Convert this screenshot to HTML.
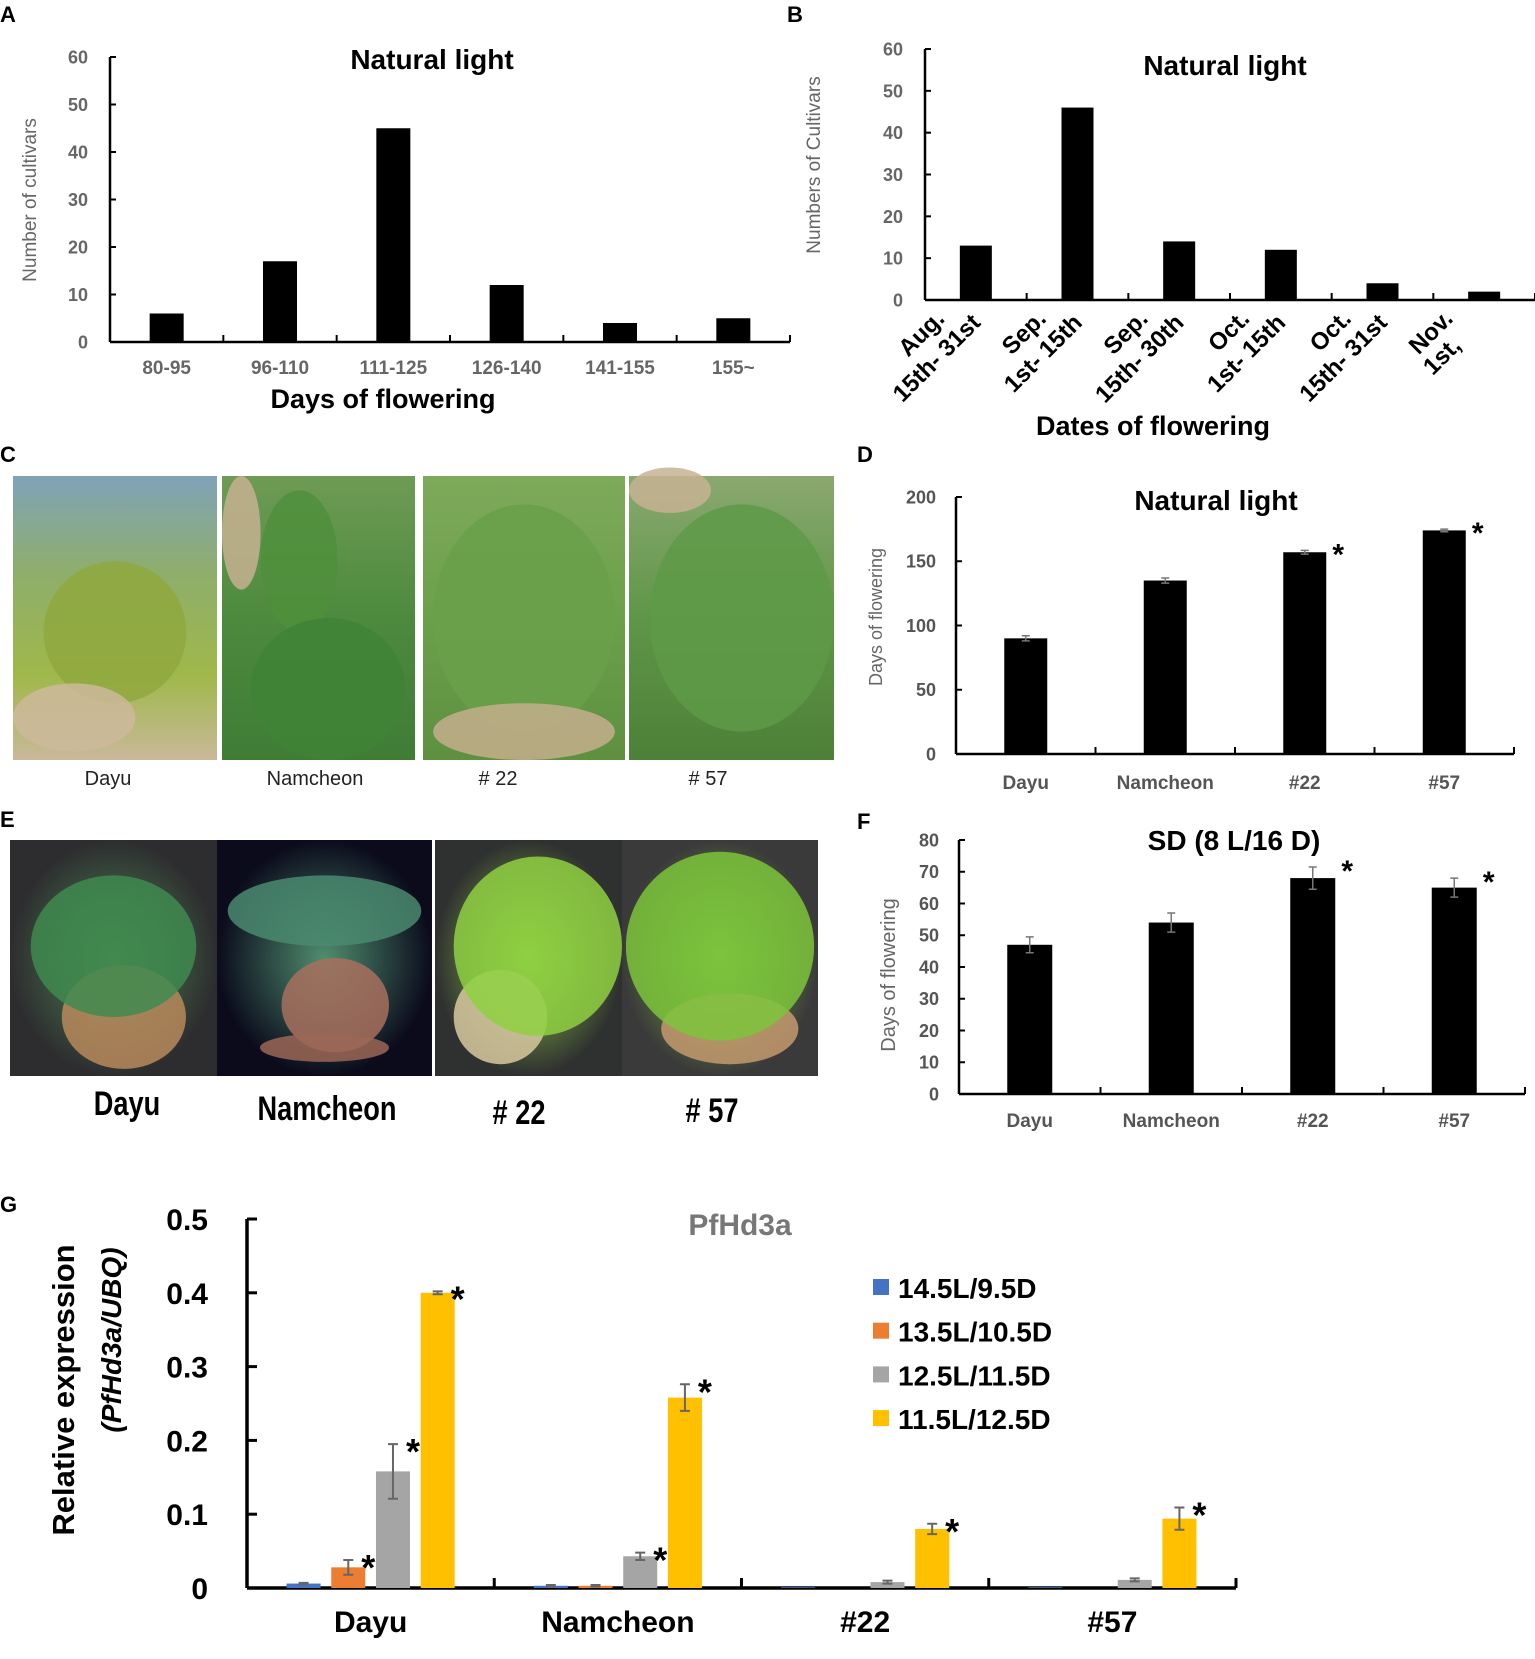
<!DOCTYPE html>
<html><head><meta charset="utf-8"><style>
html,body{margin:0;padding:0;background:#fff;}
svg{display:block;font-family:"Liberation Sans",sans-serif;}
</style></head><body>
<svg id="fig" width="1535" height="1659" viewBox="0 0 1535 1659" xmlns="http://www.w3.org/2000/svg">
<defs>
<linearGradient id="gC1" x1="0" y1="0" x2="0" y2="1"><stop offset="0" stop-color="#7fa3b8"/><stop offset="0.35" stop-color="#8fae6a"/><stop offset="0.7" stop-color="#9fb84a"/><stop offset="1" stop-color="#c9b89a"/></linearGradient>
<linearGradient id="gC2" x1="0" y1="0" x2="0" y2="1"><stop offset="0" stop-color="#6e9b55"/><stop offset="0.5" stop-color="#4d8a3e"/><stop offset="1" stop-color="#3f7d36"/></linearGradient>
<linearGradient id="gC3" x1="0" y1="0" x2="0" y2="1"><stop offset="0" stop-color="#7eaa5a"/><stop offset="0.5" stop-color="#6ba04a"/><stop offset="1" stop-color="#5e9040"/></linearGradient>
<linearGradient id="gC4" x1="0" y1="0" x2="0" y2="1"><stop offset="0" stop-color="#8aa870"/><stop offset="0.5" stop-color="#5f9648"/><stop offset="1" stop-color="#4d8038"/></linearGradient>
<radialGradient id="gE1"><stop offset="0" stop-color="#4d8a55"/><stop offset="1" stop-color="#2d2d2f"/></radialGradient>
<radialGradient id="gE2"><stop offset="0" stop-color="#4f8d6e"/><stop offset="1" stop-color="#0b0b1c"/></radialGradient>
<radialGradient id="gE3"><stop offset="0" stop-color="#8ed045"/><stop offset="1" stop-color="#2f3030"/></radialGradient>
<radialGradient id="gE4"><stop offset="0" stop-color="#7cc43c"/><stop offset="1" stop-color="#3a3a3a"/></radialGradient>
</defs>
<g id="photos"></g>
<g id="charts"></g>
</svg>
<script>
const NS='http://www.w3.org/2000/svg';
const root=document.getElementById('charts');
const photos=document.getElementById('photos');
function mk(tag,attrs,parent,text){const e=document.createElementNS(NS,tag);for(const k in attrs)e.setAttribute(k,attrs[k]);if(text!==undefined)e.textContent=text;(parent||root).appendChild(e);return e;}

// ---- data ----
const catsA=['80-95','96-110','111-125','126-140','141-155','155~'];
const valsA=[6,17,45,12,4,5];
const ticksA=[0,10,20,30,40,50,60];
const catsB1=['Aug.','Sep.','Sep.','Oct.','Oct.','Nov.'];
const catsB2=['15th- 31st','1st- 15th','15th- 30th','1st- 15th','15th- 31st','1st,'];
const valsB=[13,46,14,12,4,2];
const ticksB=[0,10,20,30,40,50,60];
const catsD=['Dayu','Namcheon','#22','#57'];
const valsD=[90,135,157,174];
const errD=[2,2,1.5,1];
const sigD=[false,false,true,true];
const ticksD=[0,50,100,150,200];
const catsF=['Dayu','Namcheon','#22','#57'];
const valsF=[47,54,68,65];
const errF=[2.5,3,3.5,3];
const sigF=[false,false,true,true];
const ticksF=[0,10,20,30,40,50,60,70,80];
const catsG=['Dayu','Namcheon','#22','#57'];
const seriesNames=['14.5L/9.5D','13.5L/10.5D','12.5L/11.5D','11.5L/12.5D'];
const g1=[0.006,0.003,0.001,0.001];
const g2=[0.028,0.003,0,0];
const g3=[0.158,0.043,0.008,0.011];
const g4=[0.4,0.258,0.08,0.094];
const e1=[0.001,0.001,0,0];
const e2=[0.01,0.001,0,0];
const e3=[0.037,0.005,0.002,0.002];
const e4=[0.002,0.018,0.007,0.015];
const s2=[true,false,false,false];
const s3=[true,true,false,false];
const s4=[true,true,true,true];
const ticksG=[0,0.1,0.2,0.3,0.4,0.5];

// ---- panel letters ----
[['A',0,22],['B',787,22],['C',0,462],['D',857,462],['E',0,827],['F',857,829],['G',0,1212]].forEach(p=>{
  const t=mk('text',{x:p[1],y:p[2],'font-size':22,'font-weight':'bold',fill:'#000'},root,p[0]);
  
  
});

function simpleChart(o){
  const g=mk('g',{});
  
  
  const n=o.cats.length, band=(o.x1-o.x0)/n;
  const max=o.ticks[o.ticks.length-1];
  const ys=v=>o.y0-(v/max)*(o.y0-o.yTop);
  const xc=i=>o.x0+band*(i+0.5);
  const ya=mk('line',{x1:o.x0,y1:o.yTop,x2:o.x0,y2:o.y0,stroke:'#000','stroke-width':2.5},g);
  
  const xa=mk('line',{x1:o.x0,y1:o.y0,x2:o.x1,y2:o.y0,stroke:'#000','stroke-width':2.5},g);
  
  o.ticks.forEach(t=>{
    mk('line',{x1:o.x0,y1:ys(t),x2:o.x0+6,y2:ys(t),stroke:'#000','stroke-width':2},g);
    const tl=mk('text',{x:o.x0-o.tickGap,y:ys(t)+o.tickFs*0.36,'text-anchor':'end','font-size':o.tickFs,'font-weight':'bold',fill:o.tickColor},g,String(t));
    
  });
  for(let i=1;i<=n;i++){mk('line',{x1:o.x0+band*i,y1:o.y0,x2:o.x0+band*i,y2:o.y0-7,stroke:'#000','stroke-width':2},g);}
  o.vals.forEach((v,i)=>{
    const b=mk('rect',{x:xc(i)-o.bw/2,y:ys(v),width:o.bw,height:o.y0-ys(v),fill:'#000'},g);
    
    if(o.err){const e=o.err[i];
      mk('path',{d:`M${xc(i)},${ys(v+e)}V${ys(v-e)}M${xc(i)-4},${ys(v+e)}H${xc(i)+4}M${xc(i)-4},${ys(v-e)}H${xc(i)+4}`,stroke:'#777','stroke-width':1.5,fill:'none'},g);}
    if(o.sig&&o.sig[i]){const s=mk('text',{x:xc(i)+o.bw/2+12,y:ys(v+(o.err?o.err[i]:0))+14,'text-anchor':'middle','font-size':30,'font-weight':'bold'},g,'*');
      }
    if(o.catY){const cl=mk('text',{x:xc(i),y:o.catY,'text-anchor':'middle','font-size':o.catFs,'font-weight':'bold',fill:o.tickColor},g,o.cats[i]);
      }
  });
  const tt=mk('text',{x:o.titleX,y:o.titleY,'text-anchor':'middle','font-size':o.titleFs,'font-weight':'bold'},g,o.title);
  
  if(o.ylab){const yl=mk('text',{x:0,y:0,transform:`translate(${o.ylab[0]},${o.ylab[1]}) rotate(-90)`,'text-anchor':'middle','font-size':o.ylab[2],fill:'#666','font-weight':o.ylab[3]||'normal'},g,o.ylabText);
    }
  if(o.xlab){const xl=mk('text',{x:o.xlab[0],y:o.xlab[1],'text-anchor':'middle','font-size':o.xlab[2],'font-weight':'bold'},g,o.xlabText);
    }
  return {xc,ys,g};
}

simpleChart({name:'chart-a',x0:110,x1:790,yTop:57,y0:342,ticks:ticksA,cats:catsA,vals:valsA,bw:34,tickGap:22,tickFs:18,tickColor:'#666',catY:374,catFs:19,
  title:'Natural light',titleX:432,titleY:69,titleFs:28,ylab:[36,200,19],ylabText:'Number of cultivars',xlab:[383,408,27],xlabText:'Days of flowering'});

const cB=simpleChart({name:'chart-b',x0:925,x1:1535,yTop:49,y0:300,ticks:ticksB,cats:catsB1,vals:valsB,bw:32,tickGap:22,tickFs:18,tickColor:'#666',
  title:'Natural light',titleX:1225,titleY:75,titleFs:28,ylab:[820,165,19],ylabText:'Numbers of Cultivars',xlab:[1153,435,27],xlabText:'Dates of flowering'});
catsB1.forEach((c,i)=>{
  const x=cB.xc(i);
  const a=mk('text',{x:0,y:0,transform:`translate(${x-30},${320}) rotate(-45)`,'text-anchor':'end','font-size':24,'font-weight':'bold'},cB.g,c);
  
  const b=mk('text',{x:0,y:0,transform:`translate(${x+(i==5?-22:6)},${i==5?347:324}) rotate(-45)`,'text-anchor':'end','font-size':24,'font-weight':'bold'},cB.g,catsB2[i]);
  
});

simpleChart({name:'chart-d',x0:956,x1:1514,yTop:497,y0:754,ticks:ticksD,cats:catsD,vals:valsD,err:errD,sig:sigD,bw:43,tickGap:20,tickFs:18,tickColor:'#555',catY:789,catFs:19,
  title:'Natural light',titleX:1216,titleY:510,titleFs:28,ylab:[882,617,18],ylabText:'Days of flowering'});
simpleChart({name:'chart-f',x0:959,x1:1525,yTop:840,y0:1094,ticks:ticksF,cats:catsF,vals:valsF,err:errF,sig:sigF,bw:45,tickGap:20,tickFs:18,tickColor:'#555',catY:1127,catFs:19,
  title:'SD (8 L/16 D)',titleX:1234,titleY:850,titleFs:28,ylab:[895,975,20],ylabText:'Days of flowering'});

// ---- chart G ----
(function(){
  const g=mk('g',{});
  
  
  const x0=247,x1=1236,yTop=1219,y0=1588,max=0.5;
  const ys=v=>y0-(v/max)*(y0-yTop);
  const band=(x1-x0)/catsG.length, xc=i=>x0+band*(i+0.5);
  const colors=['#4472c4','#ed7d31','#a5a5a5','#ffc000'];
  const series=[g1,g2,g3,g4],errs=[e1,e2,e3,e4],sigs=[null,s2,s3,s4];
  const ya=mk('line',{x1:x0,y1:yTop,x2:x0,y2:y0,stroke:'#000','stroke-width':3.5},g);
  
  const xa=mk('line',{x1:x0,y1:y0,x2:x1,y2:y0,stroke:'#000','stroke-width':3.5},g);
  
  ticksG.forEach(t=>{
    mk('line',{x1:x0,y1:ys(t),x2:x0+10,y2:ys(t),stroke:'#000','stroke-width':3},g);
    const tl=mk('text',{x:208,y:ys(t)+11,'text-anchor':'end','font-size':30,'font-weight':'bold'},g,t===0?'0':t.toFixed(1));
    
  });
  for(let i=1;i<=catsG.length;i++)mk('line',{x1:x0+band*i,y1:y0,x2:x0+band*i,y2:y0-10,stroke:'#000','stroke-width':3},g);
  const stars=[];
  catsG.forEach((c,i)=>{
    series.forEach((s,k)=>{
      const cx=xc(i)+(k-1.5)*44.7, v=s[i];
      const b=mk('rect',{x:cx-17,y:ys(v),width:34,height:y0-ys(v),fill:colors[k]},g);
      
      const e=errs[k][i];
      if(e>0)mk('path',{d:`M${cx},${ys(v+e)}V${ys(v-e)}M${cx-5},${ys(v+e)}H${cx+5}M${cx-5},${ys(v-e)}H${cx+5}`,stroke:'#666','stroke-width':2,fill:'none'},g);
      if(sigs[k]&&sigs[k][i])stars.push([cx+20,ys(v+e)+20]);
    });
    const cl=mk('text',{x:xc(i),y:1632,'text-anchor':'middle','font-size':30,'font-weight':'bold'},g,c);
    
  });
  stars.forEach(p=>{
    const st=mk('text',{x:p[0],y:p[1],'text-anchor':'middle','font-size':36,'font-weight':'bold'},g,'*');
    
  });
  const tt=mk('text',{x:740,y:1235,'text-anchor':'middle','font-size':30,'font-weight':'bold',fill:'#777'},g,'PfHd3a');
  
  const y1=mk('text',{x:0,y:0,transform:'translate(74,1390) rotate(-90)','text-anchor':'middle','font-size':31,'font-weight':'bold'},g,'Relative expression');
  
  const y2=mk('text',{x:0,y:0,transform:'translate(121,1340) rotate(-90)','text-anchor':'middle','font-size':28,'font-weight':'bold'},g,'(PfHd3a/UBQ)');
  
  y2.setAttribute('font-style','italic');
  seriesNames.forEach((n,k)=>{
    const ly=1287+k*43.7;
    const sw=mk('rect',{x:873,y:ly-8,width:16,height:16,fill:colors[k]},g);
    
    const lt=mk('text',{x:898,y:ly+11,'font-size':28,'font-weight':'bold'},g,n);
    
  });
})();

// ---- photos ----
function photo(x,y,w,h,fill,name,blobs){
  const g=mk('g',{},photos);
  
  
  mk('rect',{x,y,width:w,height:h,fill},g);
  blobs.forEach(b=>mk('ellipse',{cx:x+b[0]*w,cy:y+b[1]*h,rx:b[2]*w,ry:b[3]*h,fill:b[4],opacity:0.85},g));
}
photo(13,476,204,284,'url(#gC1)','photo-c-dayu',[[0.5,0.55,0.35,0.25,'#8fa83e'],[0.3,0.85,0.3,0.12,'#cdb89b']]);
photo(222,476,193,284,'url(#gC2)','photo-c-namcheon',[[0.4,0.3,0.2,0.25,'#4f8f3c'],[0.55,0.75,0.4,0.25,'#3f8236'],[0.1,0.2,0.1,0.2,'#c6b090']]);
photo(423,476,202,284,'url(#gC3)','photo-c-22',[[0.5,0.5,0.45,0.4,'#6aa04a'],[0.5,0.9,0.45,0.1,'#c4ae8c']]);
photo(629,476,205,284,'url(#gC4)','photo-c-57',[[0.55,0.5,0.45,0.4,'#5e9a48'],[0.2,0.05,0.2,0.08,'#c7b393']]);
photo(10,840,207,236,'url(#gE1)','photo-e-dayu',[[0.55,0.75,0.3,0.22,'#b88a5c'],[0.5,0.45,0.4,0.3,'#3f8a4f']]);
photo(217,840,215,236,'url(#gE2)','photo-e-namcheon',[[0.55,0.7,0.25,0.2,'#a8705e'],[0.5,0.88,0.3,0.06,'#9b6656'],[0.5,0.3,0.45,0.15,'#4a8a70']]);
photo(435,840,187,236,'url(#gE3)','photo-e-22',[[0.35,0.75,0.25,0.2,'#d8c9a0'],[0.55,0.45,0.45,0.38,'#8fd042']]);
photo(622,840,196,236,'url(#gE4)','photo-e-57',[[0.55,0.8,0.35,0.15,'#c49a6e'],[0.5,0.45,0.48,0.4,'#7cc43c']]);
[['Dayu',108],['Namcheon',315],['# 22',498],['# 57',708]].forEach(l=>{
  const t=mk('text',{x:l[1],y:785,'text-anchor':'middle','font-size':20,fill:'#222'},photos,l[0]);
  
});
[['Dayu',127,1115],['Namcheon',327,1120],['# 22',519,1124],['# 57',712,1122]].forEach(l=>{
  const t=mk('text',{x:l[1],y:l[2],'text-anchor':'middle','font-size':34,'font-weight':'bold',fill:'#000'},photos,l[0]);
  
  t.setAttribute('transform',`translate(${l[1]},0) scale(0.8,1) translate(${-l[1]},0)`);
});
</script>
</body></html>
